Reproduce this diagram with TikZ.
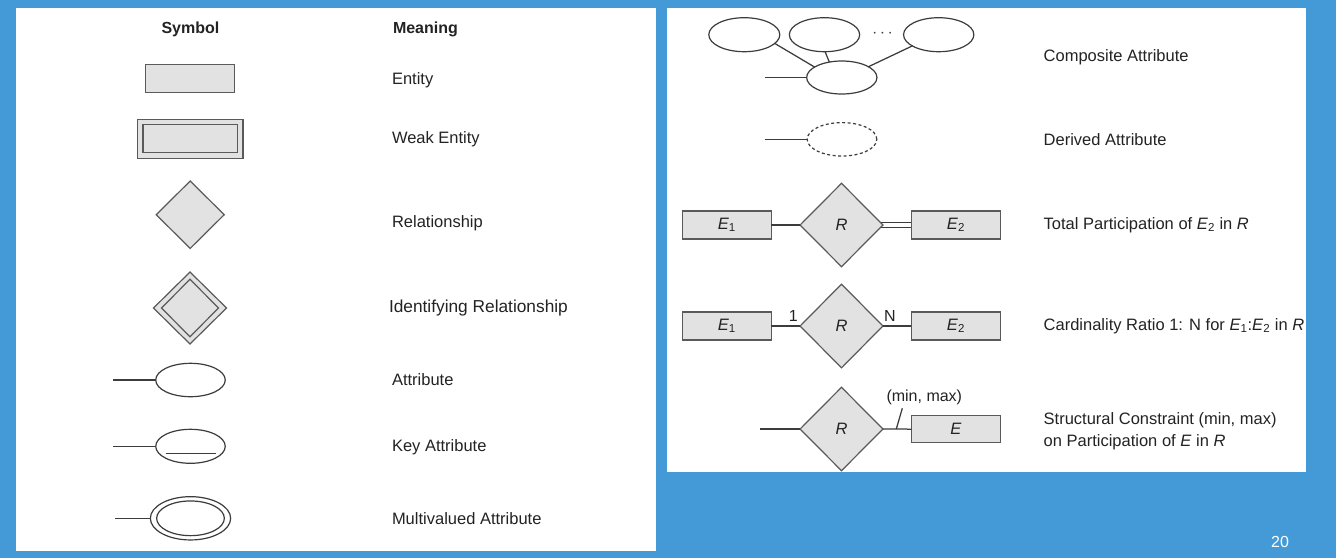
\documentclass[tikz,border=0pt]{standalone}
\usepackage{fontspec}
\setmainfont{Liberation Sans}
\usetikzlibrary{shapes.geometric}
\pgfdeclarelayer{panels}
\pgfdeclarelayer{bg}
\pgfsetlayers{panels,bg,main}
\definecolor{slideblue}{RGB}{68,154,215}
\definecolor{efill}{RGB}{226,226,226}
\definecolor{edraw}{RGB}{90,90,90}
\definecolor{lcol}{RGB}{60,60,60}
\definecolor{tcol}{RGB}{35,35,35}
\begin{document}
\begin{tikzpicture}[x=1pt,y=-1pt,
  every node/.style={inner sep=0pt, outer sep=0pt},
  ent/.style={rectangle, draw=edraw, fill=efill, line width=1.3pt, minimum width=89pt, minimum height=28pt, text=tcol, font=\fontsize{16.5pt}{19pt}\selectfont},
  rel/.style={diamond, draw=edraw, fill=efill, line width=1.2pt, text=tcol, font=\fontsize{16.5pt}{19pt}\selectfont},
  attr/.style={ellipse, draw=lcol, fill=white, line width=1.2pt},
  conn/.style={draw=lcol, line width=1.25pt},
  lbl/.style={anchor=base west, text=tcol, font=\fontsize{16.5pt}{19pt}\selectfont},
  hdr/.style={anchor=base west, text=tcol, font=\fontsize{16pt}{19pt}\selectfont\bfseries},
  small/.style={text=tcol, font=\fontsize{16pt}{19pt}\selectfont}
]
\useasboundingbox (0,0) rectangle (1336,558);
\begin{pgfonlayer}{panels}
\fill[slideblue] (0,0) rectangle (1336,558);
\fill[white] (16,8) rectangle (656,551);
\fill[white] (667,8) rectangle (1306,472);
\end{pgfonlayer}

% ---------- left panel ----------
\node[hdr] (hsym) at (161.5,33.3) {Symbol};
\node[hdr] (hmean) at (393,33.3) {Meaning};

\node[ent] (entity) at (190,78.3) {};
\node[lbl] (tentity) at (392,84.3) {Entity};

\node[ent, double=efill, double distance=4.2pt, line width=1.3pt, minimum width=100pt, minimum height=33.5pt] (weak) at (190.2,138.7) {};
\node[lbl] (tweak) at (392,143.5) {Weak Entity};

\node[rel, minimum width=68pt, minimum height=67.4pt] (relsh) at (190.2,214.7) {};
\node[lbl] (trel) at (392,227.5) {Relationship};

\node[rel, minimum width=73pt, minimum height=72pt] (idro) at (190,308) {};
\node[rel, minimum width=57pt, minimum height=57.5pt] (idri) at (190,308) {};
\node[lbl, font=\fontsize{17.3pt}{20pt}\selectfont] (tidr) at (389,312.7) {Identifying Relationship};

\node[attr, minimum width=69.5pt, minimum height=33.4pt] (att) at (190.5,380) {};
\coordinate (att0) at (113,380);
\node[lbl] (tatt) at (392,385.7) {Attribute};

\node[attr, minimum width=69.5pt, minimum height=34pt] (key) at (190.5,446.3) {};
\coordinate (key0) at (113,446.3);
\node[lbl] (tkey) at (392,451.7) {Key Attribute};

\node[attr, minimum width=80.3pt, minimum height=43.3pt] (mvo) at (190.5,518.3) {};
\node[attr, minimum width=67.7pt, minimum height=34.7pt] (mvi) at (190.5,518.3) {};
\coordinate (mv0) at (115,518.3);
\node[lbl] (tmv) at (392,524) {Multivalued Attribute};

% ---------- right panel ----------
\node[attr, minimum width=71pt, minimum height=34pt] (ca) at (744.3,34.7) {};
\node[attr, minimum width=70.3pt, minimum height=34pt] (cb) at (824.5,34.7) {};
\node[attr, minimum width=70.3pt, minimum height=34pt] (cc) at (938.7,34.7) {};
\node[small, text=lcol] (dots) at (882.5,33.5) {$\cdots$};
\node[attr, minimum width=70.3pt, minimum height=33pt] (comp) at (841.8,77.5) {};
\coordinate (comp0) at (764.8,77.5);
\node[lbl] (tcomp) at (1043.7,61.5) {Composite Attribute};

\node[attr, dashed, dash pattern=on 3pt off 2.5pt, minimum width=69.6pt, minimum height=33.4pt] (der) at (842,139.3) {};
\coordinate (der0) at (764.8,139.3);
\node[lbl] (tder) at (1043.7,145) {Derived Attribute};

\node[ent] (ea1) at (726.8,225) {\textit{E}\textsubscript{1}};
\node[rel, minimum width=82.8pt, minimum height=83.4pt] (ra) at (841.5,225) {\textit{R}};
\node[ent, minimum width=89.3pt] (ea2) at (956,225) {\textit{E}\textsubscript{2}};
\node[lbl] (ttot) at (1043.7,229.3) {Total Participation of \textit{E}\textsubscript{2} in \textit{R}};

\node[ent] (eb1) at (726.8,326) {\textit{E}\textsubscript{1}};
\node[rel, minimum width=82.8pt, minimum height=83.7pt] (rb) at (841.5,326) {\textit{R}};
\node[ent, minimum width=89.3pt] (eb2) at (956,326) {\textit{E}\textsubscript{2}};
\node[small] (one) at (793.2,316) {1};
\node[small] (nn) at (890,316) {N};
\node[lbl] (tcard) at (1043.7,330) {Cardinality Ratio 1: N for \textit{E}\textsubscript{1}:\textit{E}\textsubscript{2} in \textit{R}};

\node[rel, minimum width=82.8pt, minimum height=83.4pt] (rc) at (841.5,429) {\textit{R}};
\node[ent, minimum width=89.3pt, minimum height=27pt] (ec) at (956,429.2) {\textit{E}};
\coordinate (rc0) at (760,429);
\coordinate (tka) at (896.3,429);
\coordinate (tkb) at (902.3,408.3);
\node[small] (minmax) at (924.3,397.7) {(min, max)};
\node[lbl] (tstr1) at (1043.7,424) {Structural Constraint (min, max)};
\node[lbl] (tstr2) at (1043.7,446) {on Participation of \textit{E} in \textit{R}};

\node[text=white, font=\fontsize{16pt}{19pt}\selectfont] (pg) at (1280,541.7) {20};

% ---------- connectors ----------
\draw[conn] ([xshift=-25pt,yshift=-7pt]key.center) -- ([xshift=25pt,yshift=-7pt]key.center);
\draw[conn] (att0) -- (att);
\draw[conn] (key0) -- (key);
\draw[conn] (mv0) -- (mvo);
\draw[conn] (ca.-16) -- (comp.159);
\draw[conn] (cb.-88) -- (comp.129);
\draw[conn] (cc.-157) -- (comp.22);
\draw[conn] (comp0) -- (comp);
\draw[conn] (der0) -- (der);
\draw[conn] (ea1) -- (ra);
\begin{pgfonlayer}{bg}
\draw[conn, double=white, double distance=4pt, line width=1.1pt] (ra.center) -- (ea2.west);
\end{pgfonlayer}
\draw[conn] (eb1) -- (rb);
\draw[conn] (rb) -- (eb2);
\draw[conn] (rc0) -- (rc);
\draw[conn] (rc) -- (ec);
\draw[conn] (tka) -- (tkb);
\end{tikzpicture}
\end{document}
